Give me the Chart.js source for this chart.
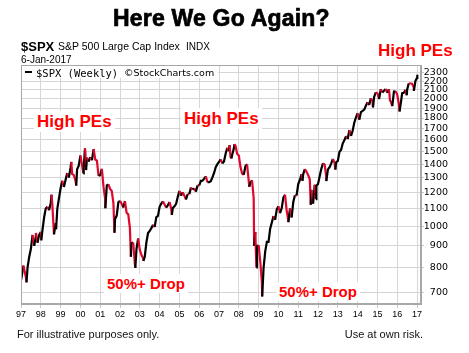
<!DOCTYPE html>
<html><head><meta charset="utf-8">
<script src="https://cdn.jsdelivr.net/npm/chart.js@4"></script>
<style>
html,body{margin:0;padding:0;background:#fff;}
#wrap{position:relative;width:469px;height:353px;overflow:hidden;background:#fff;}
canvas{position:absolute;left:0;top:0;}
.t{position:absolute;white-space:nowrap;line-height:1;font-family:"Liberation Sans",Arial,sans-serif;color:#000;}
.red{color:#f00;font-weight:bold;}
.box{background:#fff;padding:2px 3px;}
</style></head><body>
<div id="wrap">
<canvas id="c" width="469" height="353"></canvas>
<div class="t" style="left:113px;top:7px;font-size:23px;font-weight:bold;letter-spacing:0.2px;-webkit-text-stroke:0.7px #000;">Here We Go Again?</div>
<div class="t" style="left:21px;top:39.5px;font-size:13px;font-weight:bold;">$SPX</div>
<div class="t" style="left:58px;top:41px;font-size:10.5px;">S&amp;P 500 Large Cap Index</div>
<div class="t" style="left:186px;top:41.5px;font-size:10px;">INDX</div>
<div class="t" style="left:21px;top:55px;font-size:10px;">6-Jan-2017</div>
<div class="t red" style="left:378px;top:42px;font-size:17px;">High PEs</div>
<div class="t" style="left:22px;top:66px;width:196px;height:12px;background:#fff;"></div>
<div class="t" style="left:25px;top:71px;width:7px;height:2px;background:#000;"></div>
<div class="t" style="left:36px;top:67.5px;font-size:10.5px;font-family:'DejaVu Sans Mono',monospace;">$SPX (Weekly)</div>
<div class="t" style="left:124px;top:68px;font-size:9.5px;font-family:'DejaVu Sans',sans-serif;">©StockCharts.com</div>
<div class="t red box" style="left:34px;top:110.5px;font-size:17px;">High PEs</div>
<div class="t red box" style="left:181px;top:107.5px;font-size:17px;">High PEs</div>
<div class="t red box" style="left:104px;top:274px;font-size:15px;">50%+ Drop</div>
<div class="t red box" style="left:276px;top:282px;font-size:15px;">50%+ Drop</div>
<div class="t" style="left:17px;top:329px;font-size:11px;color:#111;">For illustrative purposes only.</div>
<div class="t" style="right:46px;top:329px;font-size:11px;color:#111;">Use at own risk.</div>
</div>
<script>
// Weekly/monthly closes of $SPX ('YYYY-MM' = month end)
const dates = [
'1997-01-03','1997-01','1997-02-14','1997-02','1997-03','1997-04-11','1997-04','1997-05','1997-06','1997-07','1997-08','1997-09','1997-10-03','1997-10','1997-11','1997-12',
'1998-01-09','1998-01','1998-02','1998-03','1998-04','1998-05','1998-06','1998-07-17','1998-07','1998-08','1998-09','1998-10-09','1998-10','1998-11','1998-12',
'1999-01','1999-02','1999-03','1999-04','1999-05','1999-06','1999-07-16','1999-07','1999-08','1999-09','1999-10-15','1999-10','1999-11','1999-12',
'2000-01','2000-02-25','2000-02','2000-03-24','2000-03','2000-04-14','2000-04','2000-05','2000-06','2000-07','2000-08','2000-09-01','2000-09','2000-10','2000-11','2000-12',
'2001-01','2001-02','2001-03','2001-04-04','2001-04','2001-05','2001-06','2001-07','2001-08','2001-09-21','2001-09','2001-10','2001-11','2001-12',
'2002-01','2002-02','2002-03','2002-04','2002-05','2002-06','2002-07-19','2002-07','2002-08','2002-09','2002-10-09','2002-10','2002-11','2002-12',
'2003-01','2003-02','2003-03-07','2003-03','2003-04','2003-05','2003-06','2003-07','2003-08','2003-09','2003-10','2003-11','2003-12',
'2004-01','2004-02','2004-03','2004-04','2004-05','2004-06','2004-07','2004-08-13','2004-08','2004-09','2004-10','2004-11','2004-12',
'2005-01','2005-02','2005-03','2005-04','2005-05','2005-06','2005-07','2005-08','2005-09','2005-10','2005-11','2005-12',
'2006-01','2006-02','2006-03','2006-04','2006-05','2006-06','2006-07','2006-08','2006-09','2006-10','2006-11','2006-12',
'2007-01','2007-02','2007-03','2007-04','2007-05','2007-06','2007-07-13','2007-07','2007-08-17','2007-08','2007-09','2007-10-12','2007-10','2007-11','2007-12',
'2008-01','2008-02','2008-03','2008-04','2008-05','2008-06','2008-07-11','2008-07','2008-08','2008-09','2008-10-10','2008-10','2008-11-21','2008-11','2008-12',
'2009-01','2009-02','2009-03-06','2009-03','2009-04','2009-05','2009-06','2009-07','2009-08','2009-09','2009-10','2009-11','2009-12',
'2010-01','2010-02','2010-03','2010-04','2010-05','2010-06','2010-07-02','2010-07','2010-08','2010-09','2010-10','2010-11','2010-12',
'2011-01','2011-02','2011-03-18','2011-03','2011-04','2011-05','2011-06','2011-07','2011-08-19','2011-08','2011-09','2011-10','2011-11-25','2011-11','2011-12',
'2012-01','2012-02','2012-03','2012-04','2012-05','2012-06-01','2012-06','2012-07','2012-08','2012-09','2012-10','2012-11-16','2012-11','2012-12',
'2013-01','2013-02','2013-03','2013-04','2013-05','2013-06','2013-07','2013-08','2013-09','2013-10','2013-11','2013-12',
'2014-01','2014-02','2014-03','2014-04','2014-05','2014-06','2014-07','2014-08','2014-09','2014-10-10','2014-10','2014-11','2014-12',
'2015-01','2015-02','2015-03','2015-04','2015-05','2015-06','2015-07','2015-08-21','2015-08','2015-09','2015-10','2015-11','2015-12',
'2016-01','2016-02-12','2016-02','2016-03','2016-04','2016-05','2016-06-24','2016-06','2016-07','2016-08','2016-09','2016-10','2016-11-04','2016-11','2016-12',
'2017-01-06'
];
const spx = [
748,786,808,791,757,738,801,848,885,954,899,947,965,915,955,970,
927,980,1049,1102,1112,1091,1134,1187,1121,957,1017,984,1099,1164,1229,
1280,1238,1286,1335,1302,1373,1419,1329,1320,1283,1247,1363,1389,1469,
1394,1333,1366,1527,1499,1357,1452,1421,1455,1431,1518,1521,1437,1429,1315,1320,
1366,1240,1160,1103,1249,1256,1224,1211,1134,966,1041,1060,1139,1148,
1130,1107,1147,1077,1067,990,848,912,916,815,798,886,936,880,
856,841,829,848,917,964,975,990,1008,996,1051,1058,1112,
1131,1145,1126,1107,1121,1141,1102,1064,1104,1115,1130,1174,1212,
1181,1204,1181,1157,1192,1191,1234,1220,1229,1207,1249,1248,
1280,1281,1295,1311,1270,1270,1277,1304,1336,1378,1401,1418,
1438,1407,1421,1482,1531,1503,1553,1455,1445,1474,1527,1562,1549,1481,1468,
1379,1331,1323,1386,1400,1280,1239,1267,1283,1166,899,969,800,896,903,
826,735,683,798,873,919,919,987,1021,1057,1036,1096,1115,
1074,1104,1169,1187,1089,1031,1023,1102,1049,1141,1183,1181,1258,
1286,1327,1279,1326,1364,1345,1321,1292,1124,1219,1131,1253,1159,1247,1258,
1312,1366,1408,1398,1310,1278,1362,1379,1407,1441,1412,1360,1416,1426,
1498,1515,1569,1598,1631,1606,1686,1633,1682,1757,1806,1848,
1783,1859,1872,1884,1924,1960,1931,2003,1972,1906,2018,2068,2059,
1995,2105,2068,2086,2107,2063,2104,1971,1972,1920,2079,2080,2044,
1940,1865,1932,2060,2065,2097,2037,2099,2174,2171,2168,2126,2085,2199,2239,
2277
];
const yearTicks = [1997,1998,1999,2000,2001,2002,2003,2004,2005,2006,2007,2008,2009,2010,2011,2012,2013,2014,2015,2016,2017];
const yearLabels = ['97','98','99','00','01','02','03','04','05','06','07','08','09','10','11','12','13','14','15','16','17'];
const priceTicks = [700,800,900,1000,1100,1200,1300,1400,1500,1600,1700,1800,1900,2000,2100,2200,2300];
const priceLabels = ['700','800','900','1000','1100','1200','1300','1400','1500','1600','1700','1800','1900','2000','2100','2200','2300'];

function toYear(s){
  const p = s.split('-').map(Number);
  if (p.length === 2) return p[0] + p[1]/12;
  return p[0] + (p[1]-1)/12 + (p[2]-1)/365;
}
const points = dates.map((d,i)=>({x: toYear(d), y: spx[i]}));

const UP = '#000000', DOWN = '#e0062c';
const frame = {
  id:'frame',
  afterDraw(chart){
    const a = chart.chartArea, c = chart.ctx;
    c.save(); c.strokeStyle = '#a8a8a8'; c.lineWidth = 1;
    c.strokeRect(Math.round(a.left)+0.5, Math.round(a.top)+0.5, Math.round(a.right-a.left)-1, Math.round(a.bottom-a.top)-1);
    c.restore();
  }
};

new Chart(document.getElementById('c'), {
  type:'line',
  data:{datasets:[{
    data: points,
    borderWidth: 2.2,
    pointRadius: 0,
    tension: 0,
    borderColor: DOWN,
    segment:{ borderColor: ctx => ctx.p1.parsed.y >= ctx.p0.parsed.y ? UP : DOWN }
  }]},
  options:{
    responsive:false, animation:false, devicePixelRatio:1,
    layout:{padding:{left:21, top:65, right:21, bottom:33}},
    plugins:{legend:{display:false}, tooltip:{enabled:false}},
    scales:{
      x:{
        type:'linear', min:1997, max:2017.2,
        afterBuildTicks: s => { s.ticks = yearTicks.map(v=>({value:v})); },
        afterFit: s => { s.height = 16; },
        ticks:{ autoSkip:false, maxRotation:0, padding:1, color:'#000', font:{family:'Liberation Sans', size:9},
          callback:(v,i)=> yearLabels[i] },
        grid:{ color:'#d6d6d6', tickLength:4, tickColor:'#c8c8c8' },
        border:{ color:'#a8a8a8' }
      },
      y:{
        type:'logarithmic', position:'right', min:656, max:2400,
        afterBuildTicks: s => { s.ticks = priceTicks.map(v=>({value:v})); },
        afterFit: s => { s.width = 27; },
        ticks:{ autoSkip:false, crossAlign:'far', padding:0, color:'#000', font:{family:'DejaVu Sans', size:9.5},
          callback:(v,i)=> priceLabels[i] },
        grid:{ color:'#d6d6d6', tickLength:3, tickColor:'#c8c8c8' },
        border:{ color:'#a8a8a8' }
      }
    }
  },
  plugins:[frame]
});
</script>
</body></html>
